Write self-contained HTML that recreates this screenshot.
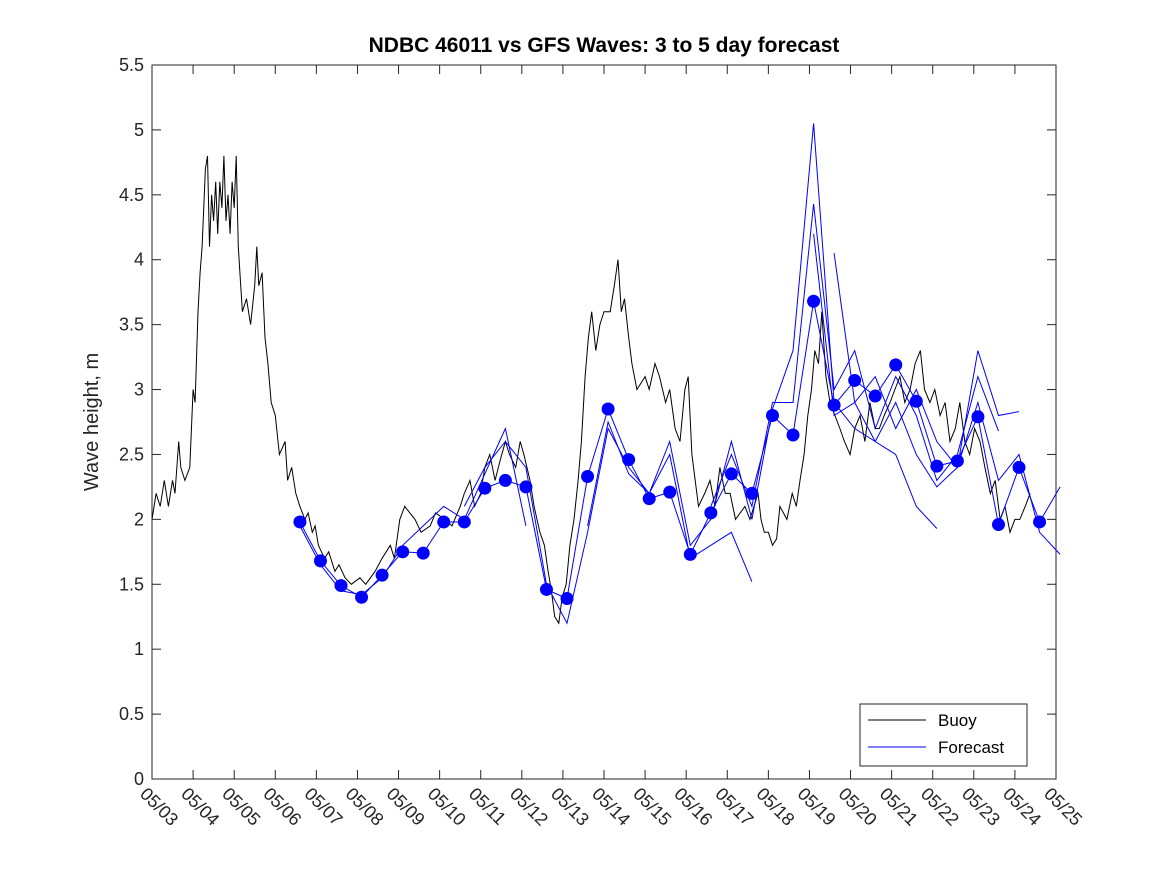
<!DOCTYPE html>
<html><head><meta charset="utf-8"><style>
body{margin:0;background:#fff;}
svg{display:block;font-family:"Liberation Sans","DejaVu Sans",sans-serif;}
</style></head><body>
<svg id="chart" width="1167" height="875"></svg>
<script>
// Buoy series: day offsets from 05/03 and wave heights (m)
const buoyDays = [0,0.1,0.2,0.3,0.4,0.5,0.56,0.65,0.7,0.8,0.92,1.0,1.05,1.12,1.17,1.22,1.3,1.35,1.4,1.45,1.5,1.55,1.6,1.65,1.7,1.75,1.8,1.85,1.9,1.95,2.0,2.05,2.1,2.14,2.2,2.3,2.4,2.5,2.55,2.6,2.68,2.75,2.82,2.9,3.0,3.1,3.24,3.3,3.4,3.5,3.6,3.72,3.8,3.9,3.97,4.05,4.2,4.3,4.45,4.55,4.7,4.85,5.06,5.2,5.43,5.6,5.8,5.9,6.03,6.15,6.4,6.55,6.77,6.9,7.13,7.3,7.5,7.6,7.74,7.85,8.0,8.1,8.22,8.35,8.47,8.6,8.7,8.85,8.96,9.05,9.2,9.3,9.44,9.55,9.64,9.72,9.8,9.9,9.98,10.08,10.17,10.27,10.37,10.45,10.54,10.62,10.7,10.8,10.9,11.0,11.15,11.25,11.34,11.42,11.5,11.6,11.68,11.8,12.0,12.1,12.24,12.35,12.5,12.6,12.73,12.85,12.97,13.05,13.14,13.22,13.3,13.45,13.58,13.7,13.82,13.95,14.07,14.2,14.43,14.55,14.75,14.82,14.9,15.0,15.1,15.2,15.28,15.45,15.58,15.68,15.77,15.87,15.96,16.05,16.13,16.22,16.3,16.4,16.5,16.62,16.74,16.85,16.99,17.1,17.23,17.35,17.47,17.6,17.7,17.82,17.96,18.08,18.2,18.32,18.45,18.57,18.7,18.8,18.93,19.05,19.18,19.3,19.42,19.55,19.66,19.78,19.9,20.02,20.15,20.27,20.4,20.52,20.64,20.76,20.88,21.0,21.12,21.25,21.37];
const buoyVals = [2.0,2.2,2.1,2.3,2.1,2.3,2.2,2.6,2.4,2.3,2.4,3.0,2.9,3.6,3.9,4.1,4.7,4.8,4.1,4.5,4.3,4.6,4.2,4.6,4.4,4.8,4.3,4.5,4.2,4.6,4.4,4.8,4.1,3.9,3.6,3.7,3.5,3.8,4.1,3.8,3.9,3.4,3.2,2.9,2.8,2.5,2.6,2.3,2.4,2.2,2.1,2.0,2.05,1.9,1.95,1.8,1.7,1.75,1.6,1.65,1.55,1.5,1.55,1.5,1.6,1.7,1.8,1.7,2.0,2.1,2.0,1.9,1.95,2.05,2.0,1.95,2.1,2.2,2.3,2.1,2.2,2.4,2.5,2.3,2.45,2.6,2.5,2.4,2.6,2.5,2.3,2.1,1.9,1.8,1.6,1.45,1.25,1.2,1.4,1.5,1.8,2.0,2.3,2.6,3.1,3.4,3.6,3.3,3.5,3.6,3.6,3.8,4.0,3.6,3.7,3.4,3.2,3.0,3.1,3.0,3.2,3.1,2.9,3.0,2.7,2.6,3.0,3.1,2.5,2.3,2.1,2.2,2.3,2.1,2.4,2.2,2.2,2.0,2.1,2.0,2.2,2.0,1.9,1.9,1.8,1.85,2.1,2.0,2.2,2.1,2.3,2.5,2.8,3.0,3.3,3.2,3.6,3.1,2.9,2.8,2.7,2.6,2.5,2.7,2.8,2.6,2.9,2.7,2.7,2.8,2.9,3.0,3.1,2.9,3.0,3.2,3.3,3.0,2.9,3.0,2.8,2.9,2.6,2.7,2.9,2.6,2.5,2.7,2.6,2.4,2.2,2.3,2.0,2.1,1.9,2.0,2.0,2.1,2.2];
// Forecast markers (0.5-day spacing starting at day 3.6)
const markerStart = 3.6;
const markerVals = [1.98,1.68,1.49,1.40,1.57,1.75,1.74,1.98,1.98,2.24,2.30,2.25,1.46,1.39,2.33,2.85,2.46,2.16,2.21,1.73,2.05,2.35,2.20,2.80,2.65,3.68,2.88,3.07,2.95,3.19,2.91,2.41,2.45,2.79,1.96,2.40,1.98];
// Forecast runs: start index on marker grid + values
const runStarts = [0,0,8,14,20,25,26];
const run1 = [1.98,1.68,1.49,1.40,1.57,1.75,1.74,1.98,1.98,2.24,2.30,2.25,1.46,1.39,2.33,2.85,2.46,2.16,2.21,1.73,2.05,2.35,2.20,2.80,2.65,3.68,2.88,3.07,2.95,3.19,2.91,2.41,2.45,2.79,1.96,2.40,1.98,2.25];
const run2 = [1.95,1.65,1.45,1.42,1.55,1.8,1.95,2.1,2.0,2.35,2.7,1.95];
const run3 = [2.1,2.4,2.6,2.4,1.5,1.2,1.9,2.7,2.4,2.2,2.5,1.7,1.8,1.9,1.52];
const run4 = [1.95,2.75,2.35,2.2,2.6,1.8,2.0,2.6,2.0,2.85,3.3,5.05,2.9,2.7,2.6,2.5,2.1,1.93];
const run5 = [2.1,2.5,2.1,2.9,2.9,4.43,3.0,3.3,2.7,3.1,2.8,2.3,2.5,3.1,2.68];
const run6 = [4.2,2.8,2.9,2.6,2.9,2.5,2.25,2.4,3.3,2.8,2.83];
const run7 = [4.05,2.9,3.1,2.7,3.0,2.6,2.4,2.9,2.3,2.5,1.9,1.73];
const xTickLabels = ["05/03","05/04","05/05","05/06","05/07","05/08","05/09","05/10","05/11","05/12","05/13","05/14","05/15","05/16","05/17","05/18","05/19","05/20","05/21","05/22","05/23","05/24","05/25"];
const yTicks = [0,0.5,1,1.5,2,2.5,3,3.5,4,4.5,5,5.5];

const L=152,R=1056,T=65,B=779;
const xs=d=>L+d*(R-L)/22;
const ys=v=>B-v*(B-T)/5.5;
const svg=document.getElementById('chart');
const NS='http://www.w3.org/2000/svg';
function mk(tag,attrs,parent){const e=document.createElementNS(NS,tag);for(const k in attrs)e.setAttribute(k,attrs[k]);(parent||svg).appendChild(e);return e;}

const frame=mk('rect',{x:L,y:T,width:R-L,height:B-T,fill:'#fff',stroke:'#262626','stroke-width':1});



yTicks.forEach(v=>{
  const y=ys(v);
  const t1=mk('line',{x1:L,x2:L+9,y1:y,y2:y,stroke:'#262626'});
  
  
  mk('line',{x1:R,x2:R-9,y1:y,y2:y,stroke:'#262626'});
  const tx=mk('text',{x:L-8,y:y+6,'text-anchor':'end','font-size':18,fill:'#262626'});
  tx.textContent=String(v);
  
  
});
xTickLabels.forEach((lab,i)=>{
  const x=xs(i);
  const t1=mk('line',{x1:x,x2:x,y1:B,y2:B-9,stroke:'#262626'});
  
  
  mk('line',{x1:x,x2:x,y1:T,y2:T+9,stroke:'#262626'});
  const tx=mk('text',{x:0,y:0,'font-size':18,fill:'#262626',transform:`translate(${x-13},${B+16}) rotate(45)`});
  tx.textContent=lab;
  
  
});

// buoy line
let p='';buoyDays.forEach((d,i)=>{p+=(i?'L':'M')+xs(d).toFixed(1)+','+ys(buoyVals[i]).toFixed(1);});
const bl=mk('path',{d:p,fill:'none',stroke:'#000','stroke-width':1});



[run1,run2,run3,run4,run5,run6,run7].forEach((run,j)=>{
  let q='';run.forEach((v,i)=>{const d=markerStart+0.5*(runStarts[j]+i);q+=(i?'L':'M')+xs(d).toFixed(1)+','+ys(v).toFixed(1);});
  const fl=mk('path',{d:q,fill:'none',stroke:'#0000ff','stroke-width':1});
  
  
});
markerVals.forEach((v,i)=>{
  const c=mk('circle',{cx:xs(markerStart+0.5*i),cy:ys(v),r:6.5,fill:'#0000ff'});
  
  
});

const title=mk('text',{x:604,y:52,'text-anchor':'middle','font-size':21,'font-weight':'bold',fill:'#000'});
title.textContent='NDBC 46011 vs GFS Waves: 3 to 5 day forecast';


const yl=mk('text',{x:0,y:0,'text-anchor':'middle','font-size':20,fill:'#262626',transform:'translate(98,422) rotate(-90)'});
yl.textContent='Wave height, m';



const lg=mk('g',{});


mk('rect',{x:860,y:704,width:167,height:62,fill:'#fff',stroke:'#262626'},lg);
const e1=mk('line',{x1:868,x2:926,y1:720,y2:720,stroke:'#000'},lg);


const t1=mk('text',{x:938,y:726,'font-size':17,fill:'#000'},lg);t1.textContent='Buoy';


const e2=mk('line',{x1:868,x2:926,y1:747,y2:747,stroke:'#0000ff'},lg);


const t2=mk('text',{x:938,y:753,'font-size':17,fill:'#000'},lg);t2.textContent='Forecast';


</script>
</body></html>
